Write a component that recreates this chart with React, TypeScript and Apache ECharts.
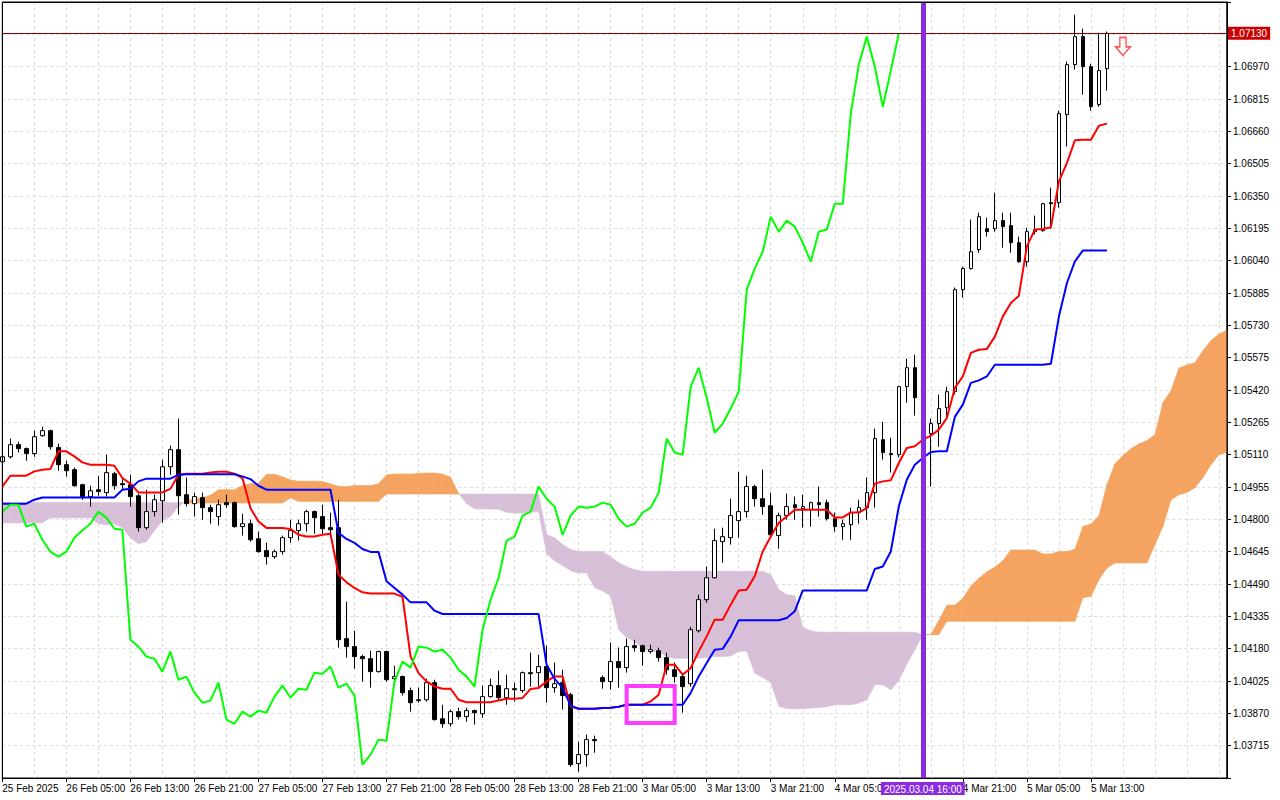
import React, { useEffect, useRef } from "react";
import * as echarts from "echarts";

// ---- price data (EURUSD H1), bar 0 = 25 Feb 21:00 ----
const opens = [
  1.05076,1.05100,1.05158,1.05139,1.05115,1.05201,1.05225,1.05144,1.05062,1.05038,
  1.04966,1.04909,1.04942,1.04928,1.05019,1.04971,1.04966,1.04913,1.04760,1.04837,
  1.04889,1.05052,1.05134,1.04918,1.04875,1.04904,1.04856,1.04813,1.04880,1.04880,
  1.04765,1.04779,1.04707,1.04650,1.04621,1.04645,1.04712,1.04746,1.04779,1.04837,
  1.04813,1.04760,1.04760,1.04228,1.04190,1.04142,1.04132,1.04070,1.04166,1.04036,
  1.04046,1.03979,1.03935,1.03935,1.04017,1.03844,1.03820,1.03878,1.03854,1.03883,
  1.03868,1.03950,1.04003,1.03945,1.03988,1.03979,1.04065,1.04065,1.04094,1.03993,
  1.04017,1.03959,1.03629,1.03672,1.03744,1.04041,1.04022,1.04118,1.04089,1.04194,
  1.04194,1.04166,1.04170,1.04137,1.04079,1.04046,1.04012,1.04266,1.04415,1.04520,
  1.04693,1.04712,1.04794,1.04837,1.04957,1.04899,1.04865,1.04722,1.04818,1.04870,
  1.04851,1.04846,1.04880,1.04880,1.04803,1.04765,1.04774,1.04832,1.04856,1.04928,
  1.05182,1.05115,1.05110,1.05436,1.05527,1.05383,1.05211,1.05259,1.05335,1.05412,
  1.05901,1.06002,1.06093,1.06193,1.06193,1.06232,1.06208,1.06126,1.06035,1.06179,
  1.06184,1.06318,1.06318,1.06740,1.06980,1.07114,1.06970,1.06788,1.06960
];
const highs = [
  1.05110,1.05187,1.05172,1.05144,1.05225,1.05244,1.05230,1.05163,1.05081,1.05048,
  1.04971,1.04961,1.05009,1.05110,1.05028,1.05000,1.05014,1.04923,1.04942,1.04918,
  1.05086,1.05153,1.05283,1.05000,1.04928,1.04928,1.04870,1.04894,1.04918,1.04885,
  1.04827,1.04798,1.04741,1.04688,1.04655,1.04722,1.04798,1.04798,1.04846,1.04842,
  1.04870,1.04832,1.04894,1.04405,1.04266,1.04151,1.04170,1.04170,1.04170,1.04098,
  1.04051,1.03993,1.03993,1.04036,1.04031,1.03911,1.03888,1.03897,1.03897,1.03888,
  1.04003,1.04036,1.04074,1.04055,1.04017,1.04070,1.04161,1.04151,1.04194,1.04113,
  1.04079,1.03969,1.03734,1.03768,1.03763,1.04051,1.04209,1.04185,1.04228,1.04223,
  1.04199,1.04199,1.04185,1.04161,1.04113,1.04055,1.04285,1.04439,1.04573,1.04755,
  1.04760,1.04899,1.05028,1.05009,1.04966,1.05038,1.04928,1.04832,1.04923,1.04909,
  1.04918,1.04885,1.04957,1.04894,1.04832,1.04798,1.04856,1.04894,1.05000,1.05235,
  1.05268,1.05191,1.05441,1.05570,1.05589,1.05398,1.05283,1.05398,1.05436,1.05911,
  1.06011,1.06237,1.06270,1.06246,1.06366,1.06270,1.06270,1.06155,1.06198,1.06256,
  1.06318,1.06390,1.06759,1.06994,1.07219,1.07152,1.06984,1.07133,1.07138
];
const lows = [
  1.05067,1.05091,1.05120,1.05081,1.05100,1.05196,1.05134,1.05033,1.05005,1.04957,
  1.04894,1.04861,1.04913,1.04909,1.04942,1.04942,1.04861,1.04741,1.04750,1.04813,
  1.04784,1.05014,1.04822,1.04861,1.04813,1.04798,1.04779,1.04770,1.04856,1.04760,
  1.04722,1.04693,1.04640,1.04583,1.04611,1.04631,1.04688,1.04698,1.04741,1.04731,
  1.04731,1.04717,1.04185,1.04137,1.04084,1.04022,1.03993,1.04065,1.04022,1.04026,
  1.03955,1.03878,1.03921,1.03926,1.03835,1.03801,1.03806,1.03840,1.03830,1.03816,
  1.03849,1.03945,1.03931,1.03911,1.03926,1.03969,1.03998,1.03998,1.03921,1.03969,
  1.03888,1.03614,1.03590,1.03614,1.03681,1.03988,1.03983,1.03993,1.04065,1.04166,
  1.04098,1.04156,1.04118,1.04055,1.04017,1.03873,1.03998,1.04257,1.04400,1.04516,
  1.04592,1.04679,1.04712,1.04808,1.04861,1.04822,1.04717,1.04659,1.04798,1.04798,
  1.04760,1.04765,1.04813,1.04794,1.04741,1.04702,1.04702,1.04779,1.04798,1.04856,
  1.05086,1.05024,1.05096,1.05359,1.05297,1.05182,1.04957,1.05148,1.05287,1.05398,
  1.05863,1.05997,1.06078,1.06155,1.06179,1.06102,1.06078,1.06030,1.06011,1.06165,
  1.06179,1.06193,1.06294,1.06587,1.06956,1.06836,1.06759,1.06778,1.06855
];
const closes = [
  1.05100,1.05158,1.05139,1.05115,1.05196,1.05225,1.05148,1.05062,1.05033,1.04961,
  1.04909,1.04937,1.04933,1.05024,1.04961,1.04966,1.04909,1.04760,1.04837,1.04894,
  1.05052,1.05134,1.04913,1.04875,1.04909,1.04856,1.04837,1.04870,1.04870,1.04765,
  1.04779,1.04702,1.04645,1.04621,1.04645,1.04712,1.04746,1.04779,1.04837,1.04808,
  1.04755,1.04750,1.04223,1.04190,1.04142,1.04132,1.04070,1.04166,1.04031,1.04046,
  1.03969,1.03921,1.03931,1.04017,1.03840,1.03820,1.03878,1.03854,1.03883,1.03873,
  1.03950,1.04003,1.03945,1.03988,1.03983,1.04065,1.04060,1.04094,1.03993,1.04012,
  1.03955,1.03624,1.03672,1.03744,1.03739,1.04022,1.04118,1.04089,1.04190,1.04185,
  1.04166,1.04175,1.04137,1.04079,1.04046,1.03998,1.04271,1.04415,1.04520,1.04698,
  1.04717,1.04818,1.04837,1.04957,1.04899,1.04861,1.04726,1.04818,1.04861,1.04856,
  1.04861,1.04880,1.04870,1.04803,1.04765,1.04779,1.04832,1.04856,1.04928,1.05187,
  1.05120,1.05110,1.05436,1.05527,1.05383,1.05215,1.05259,1.05331,1.05412,1.05901,
  1.06002,1.06083,1.06251,1.06179,1.06232,1.06203,1.06126,1.06035,1.06179,1.06189,
  1.06313,1.06313,1.06745,1.06980,1.07114,1.06970,1.06778,1.06951,1.07130
];

// ---- Ichimoku lines ----
const tenkan = [
  1.04957,1.05009,1.05009,1.05009,1.05030,1.05038,1.05041,1.05126,1.05126,1.05102,
  1.05073,1.05062,1.05062,1.05062,1.05057,1.04998,1.04971,1.04929,1.04929,1.04929,
  1.04929,1.04946,1.05014,1.05019,1.05019,1.05019,1.05024,1.05028,1.05028,1.05019,
  1.04998,1.04854,1.04790,1.04759,1.04759,1.04759,1.04754,1.04726,1.04718,1.04718,
  1.04726,1.04731,1.04535,1.04498,1.04471,1.04450,1.04444,1.04444,1.04444,1.04444,
  1.04428,1.04143,1.04063,1.04023,1.03999,1.03988,1.03988,1.03935,1.03923,1.03923,
  1.03923,1.03923,1.03932,1.03940,1.03940,1.03944,1.03987,1.03992,1.04023,1.04047,
  1.04047,1.03903,1.03892,1.03892,1.03892,1.03896,1.03897,1.03902,1.03911,1.03911,
  1.03911,1.03927,1.03959,1.04103,1.04103,1.04055,1.04087,1.04167,1.04239,1.04319,
  1.04319,1.04391,1.04459,1.04463,1.04527,1.04646,1.04718,1.04783,1.04814,1.04846,
  1.04846,1.04846,1.04846,1.04846,1.04809,1.04809,1.04833,1.04833,1.04854,1.04971,
  1.04982,1.04987,1.05070,1.05142,1.05150,1.05182,1.05201,1.05230,1.05286,1.05430,
  1.05485,1.05598,1.05613,1.05617,1.05676,1.05773,1.05837,1.05872,1.06109,1.06189,
  1.06192,1.06200,1.06420,1.06508,1.06617,1.06620,1.06620,1.06687,1.06697
];
const kijun = [
  1.04875,1.04875,1.04875,1.04875,1.04894,1.04905,1.04905,1.04905,1.04905,1.04905,
  1.04905,1.04905,1.04905,1.04905,1.04905,1.04942,1.04947,1.04982,1.04995,1.04995,
  1.04995,1.04995,1.05013,1.05016,1.05016,1.05016,1.05016,1.05016,1.05016,1.05016,
  1.05006,1.04993,1.04961,1.04942,1.04942,1.04942,1.04942,1.04942,1.04942,1.04942,
  1.04942,1.04942,1.04735,1.04706,1.04687,1.04658,1.04644,1.04644,1.04503,1.04471,
  1.04439,1.04402,1.04402,1.04402,1.04362,1.04346,1.04346,1.04346,1.04346,1.04346,
  1.04346,1.04346,1.04346,1.04346,1.04346,1.04346,1.04346,1.04346,1.04103,1.04035,
  1.03992,1.03907,1.03892,1.03892,1.03892,1.03895,1.03897,1.03902,1.03911,1.03911,
  1.03911,1.03911,1.03911,1.03911,1.03911,1.03911,1.03968,1.04047,1.04111,1.04175,
  1.04179,1.04239,1.04316,1.04316,1.04316,1.04316,1.04316,1.04316,1.04327,1.04359,
  1.04459,1.04459,1.04459,1.04459,1.04459,1.04459,1.04459,1.04459,1.04459,1.04562,
  1.04574,1.04646,1.04862,1.04990,1.05062,1.05094,1.05123,1.05126,1.05126,1.05291,
  1.05350,1.05454,1.05466,1.05485,1.05541,1.05541,1.05541,1.05541,1.05541,1.05541,
  1.05541,1.05546,1.05772,1.05933,1.06037,1.06089,1.06089,1.06089,1.06089
];
const spanA = [
  1.04784,1.04783,1.04783,1.04783,1.04783,1.04783,1.04807,1.04807,1.04807,1.04807,
  1.04807,1.04807,1.04779,1.04774,1.04779,1.04760,1.04712,1.04683,1.04693,1.04746,
  1.04794,1.04814,1.04861,1.04889,1.04899,1.04904,1.04916,1.04942,1.04942,1.04942,
  1.04962,1.04971,1.04973,1.05016,1.05016,1.05004,1.04989,1.04983,1.04983,1.04983,
  1.04981,1.04970,1.04959,1.04956,1.04962,1.04962,1.04962,1.04970,1.05013,1.05017,
  1.05017,1.05017,1.05020,1.05022,1.05022,1.05017,1.05002,1.04924,1.04876,1.04850,
  1.04850,1.04850,1.04848,1.04834,1.04830,1.04830,1.04834,1.04837,1.04634,1.04602,
  1.04579,1.04554,1.04543,1.04543,1.04473,1.04457,1.04433,1.04272,1.04233,1.04213,
  1.04180,1.04167,1.04167,1.04141,1.04134,1.04134,1.04134,1.04134,1.04139,1.04143,
  1.04143,1.04145,1.04167,1.04169,1.04063,1.04041,1.04019,1.03905,1.03892,1.03892,
  1.03892,1.03895,1.03897,1.03902,1.03911,1.03911,1.03911,1.03919,1.03935,1.04007,
  1.04007,1.03983,1.04027,1.04107,1.04175,1.04247,1.04249,1.04315,1.04388,1.04389,
  1.04421,1.04481,1.04517,1.04549,1.04571,1.04602,1.04653,1.04653,1.04653,1.04653,
  1.04634,1.04634,1.04646,1.04646,1.04657,1.04766,1.04778,1.04817,1.04966,1.05066,
  1.05106,1.05138,1.05162,1.05178,1.05206,1.05360,1.05417,1.05526,1.05540,1.05551,
  1.05609,1.05657,1.05689,1.05707
];
const spanB = [
  1.04881,1.04881,1.04881,1.04881,1.04881,1.04881,1.04881,1.04881,1.04881,1.04881,
  1.04881,1.04881,1.04881,1.04881,1.04881,1.04881,1.04881,1.04881,1.04881,1.04881,
  1.04881,1.04881,1.04881,1.04878,1.04878,1.04878,1.04878,1.04878,1.04878,1.04878,
  1.04878,1.04878,1.04878,1.04878,1.04878,1.04878,1.04902,1.04886,1.04886,1.04886,
  1.04886,1.04886,1.04886,1.04886,1.04886,1.04886,1.04886,1.04886,1.04921,1.04921,
  1.04921,1.04921,1.04921,1.04921,1.04921,1.04921,1.04921,1.04921,1.04921,1.04921,
  1.04921,1.04921,1.04921,1.04921,1.04921,1.04921,1.04921,1.04921,1.04726,1.04712,
  1.04679,1.04655,1.04646,1.04646,1.04646,1.04645,1.04621,1.04592,1.04573,1.04559,
  1.04551,1.04551,1.04551,1.04551,1.04551,1.04551,1.04551,1.04551,1.04551,1.04551,
  1.04551,1.04551,1.04551,1.04551,1.04551,1.04551,1.04535,1.04463,1.04439,1.04434,
  1.04281,1.04266,1.04259,1.04259,1.04259,1.04259,1.04259,1.04259,1.04259,1.04259,
  1.04259,1.04259,1.04259,1.04259,1.04259,1.04247,1.04247,1.04247,1.04311,1.04311,
  1.04311,1.04311,1.04311,1.04311,1.04311,1.04311,1.04311,1.04311,1.04311,1.04311,
  1.04311,1.04311,1.04311,1.04311,1.04311,1.04424,1.04431,1.04511,1.04567,1.04591,
  1.04591,1.04591,1.04591,1.04591,1.04679,1.04766,1.04894,1.04918,1.04929,1.04952,
  1.05000,1.05062,1.05110,1.05121
];
const CHIKOU_SHIFT = 26;
const TOTAL_BARS = 154;

// ---- axes ----
const xTickLabels = [
  "25 Feb 2025","26 Feb 05:00","26 Feb 13:00","26 Feb 21:00","27 Feb 05:00","27 Feb 13:00",
  "27 Feb 21:00","28 Feb 05:00","28 Feb 13:00","28 Feb 21:00","3 Mar 05:00","3 Mar 13:00",
  "3 Mar 21:00","4 Mar 05:00","","4 Mar 21:00","5 Mar 05:00","5 Mar 13:00"
];
const BARS_PER_LABEL = 8;
const BARS_PER_GRID = 4;
const yMin = 1.0356;
const yMax = 1.0728;
const yStep = 0.00155;

// ---- annotations ----
const lastPrice = 1.0713;
const markerBar = 115;
const markerText = "2025.03.04 16:00";
const signalBars = [140];
const signalPrices = [1.07067];
const boxBars = [78, 84];
const boxPrices = [1.04001, 1.03824];

const FONT = "Liberation Sans, Arial, sans-serif";
const ORANGE = "#F4A460";
const THISTLE = "#D8BFD8";

export default function App() {
  const ref = useRef<HTMLDivElement>(null);

  useEffect(() => {
    const chart = echarts.init(ref.current as HTMLDivElement, null, { renderer: "svg" });

    const categories = Array.from({ length: TOTAL_BARS }, (_, i) => String(i));
    const candleData = opens.map((o, i) => [o, closes[i], lows[i], highs[i]]);
    const chikou = closes.slice(CHIKOU_SHIFT);
    const cloudData = spanA.slice(0, -1).map((a, i) => [i, a, spanB[i], spanA[i + 1], spanB[i + 1]]);

    const hasLabel = (i: number) =>
      i % BARS_PER_LABEL === 0 &&
      i / BARS_PER_LABEL < xTickLabels.length &&
      xTickLabels[i / BARS_PER_LABEL] !== "";

    const cloudRender = (params: any, api: any) => {
      const i = api.value(0);
      const a0 = api.value(1), b0 = api.value(2), a1 = api.value(3), b1 = api.value(4);
      const pA0 = api.coord([i, a0]);
      const pB0 = api.coord([i, b0]);
      const pA1 = api.coord([i + 1, a1]);
      const pB1 = api.coord([i + 1, b1]);
      const d0 = a0 - b0, d1 = a1 - b1;
      const poly = (pts: number[][], c: string) => ({
        type: "polygon",
        shape: { points: pts },
        style: { fill: c, stroke: c, lineWidth: 0.6 },
      });
      const children: any[] = [];
      if (d0 * d1 >= 0) {
        const c = d0 + d1 >= 0 ? ORANGE : THISTLE;
        children.push(poly([pA0, pA1, pB1, pB0], c));
      } else {
        const t = d0 / (d0 - d1);
        const pc = [pA0[0] + (pA1[0] - pA0[0]) * t, pA0[1] + (pA1[1] - pA0[1]) * t];
        children.push(poly([pA0, pc, pB0], d0 >= 0 ? ORANGE : THISTLE));
        children.push(poly([pc, pA1, pB1], d1 >= 0 ? ORANGE : THISTLE));
      }
      return { type: "group", children };
    };

    const option: any = {
      animation: false,
      backgroundColor: "#ffffff",
      textStyle: { fontFamily: FONT },
      grid: {
        left: 2.3,
        right: 53,
        top: 2,
        bottom: 22,
        show: true,
        borderColor: "#000",
        borderWidth: 1,
        backgroundColor: "#fff",
        containLabel: false,
        outerBoundsMode: "none",
      },
      graphic: [
        {
          type: "rect",
          silent: true,
          z: 100,
          shape: { x: 2.5, y: 2.5, width: 1224.5, height: 776 },
          style: { fill: "none", stroke: "#000", lineWidth: 1 },
        },
      ],
      xAxis: {
        type: "category",
        boundaryGap: false,
        data: categories,
        axisLine: { show: true, lineStyle: { color: "#000", width: 1 } },
        axisTick: { show: true, length: 4, interval: (i: number) => hasLabel(i), lineStyle: { color: "#000" } },
        axisLabel: {
          show: true,
          interval: (i: number) => hasLabel(i),
          formatter: (_v: string, i: number) => xTickLabels[i / BARS_PER_LABEL] || "",
          align: "left",
          margin: 5,
          color: "#000",
          fontSize: 10,
          fontFamily: FONT,
        },
        splitLine: {
          show: true,
          interval: (i: number) => i % BARS_PER_GRID === 0,
          lineStyle: { color: "#dcdcdc", type: [3, 3], width: 1 },
        },
      },
      yAxis: {
        type: "value",
        position: "right",
        min: yMin,
        max: yMax,
        interval: yStep,
        axisLine: { show: true, lineStyle: { color: "#000" } },
        axisTick: { show: true, length: 4, lineStyle: { color: "#000" } },
        axisLabel: {
          margin: 6,
          color: "#000",
          fontSize: 10,
          fontFamily: FONT,
          formatter: (v: number) => (v < yMin + 0.0001 || v > lastPrice - 0.0001 ? "" : v.toFixed(5)),
        },
        splitLine: { show: true, lineStyle: { color: "#dcdcdc", type: [3, 3], width: 1 } },
      },
      series: [
        {
          type: "custom",
          name: "cloud",
          data: cloudData,
          renderItem: cloudRender,
          encode: { x: 0, y: [1, 2, 3, 4] },
          clip: true,
          silent: true,
          z: 1,
        },
        {
          type: "candlestick",
          name: "price",
          data: candleData,
          barWidth: 4,
          silent: true,
          z: 2,
          itemStyle: {
            color: "#ffffff",
            color0: "#000000",
            borderColor: "#000000",
            borderColor0: "#000000",
            borderColorDoji: "#000000",
            borderWidth: 1,
          },
        },
        {
          type: "line",
          name: "tenkan",
          data: tenkan,
          symbol: "none",
          showSymbol: false,
          silent: true,
          z: 3,
          lineStyle: { color: "#ff0000", width: 2 },
          itemStyle: { color: "#ff0000" },
        },
        {
          type: "line",
          name: "kijun",
          data: kijun,
          symbol: "none",
          showSymbol: false,
          silent: true,
          z: 4,
          lineStyle: { color: "#0000ff", width: 2 },
          itemStyle: { color: "#0000ff" },
        },
        {
          type: "line",
          name: "chikou",
          data: chikou,
          symbol: "none",
          showSymbol: false,
          silent: true,
          z: 5,
          lineStyle: { color: "#00ff00", width: 2 },
          itemStyle: { color: "#00ff00" },
        },
        {
          type: "scatter",
          name: "signal",
          data: signalBars.map((b, i) => [b, signalPrices[i]]),
          symbol: "path://M5,0 L12,0 L12,10 L17,10 L8.5,19 L0,10 L5,10 Z",
          symbolSize: [15, 18],
          silent: true,
          clip: false,
          z: 6,
          itemStyle: { color: "#ffffff", borderColor: "#ff2a2a", borderWidth: 1.5 },
          markLine: {
            silent: true,
            symbol: ["none", "none"],
            precision: 5,
            z: 10,
            data: [
              {
                yAxis: lastPrice,
                lineStyle: { color: "#8b0000", width: 1, type: "solid" },
                label: {
                  show: true,
                  position: "end",
                  formatter: lastPrice.toFixed(5),
                  color: "#ffffff",
                  backgroundColor: "#cc0000",
                  padding: [2, 3, 1, 3],
                  distance: 1,
                  fontSize: 10,
                  fontFamily: FONT,
                },
              },
              {
                xAxis: markerBar,
                lineStyle: { color: "#8a2be2", width: 5, type: "solid" },
                label: {
                  show: true,
                  position: "start",
                  formatter: markerText,
                  color: "#ffffff",
                  backgroundColor: "#8a2be2",
                  padding: [2, 3, 1, 3],
                  distance: 4,
                  fontSize: 10,
                  fontFamily: FONT,
                },
              },
            ],
          },
          markArea: {
            silent: true,
            precision: 5,
            z: 10,
            itemStyle: { color: "rgba(0,0,0,0)", borderColor: "#ff3cff", borderWidth: 4 },
            data: [[{ xAxis: boxBars[0], yAxis: boxPrices[0] }, { xAxis: boxBars[1], yAxis: boxPrices[1] }]],
          },
        },
      ],
    };

    chart.setOption(option);
    return () => chart.dispose();
  }, []);

  return (
    <div
      ref={ref}
      style={{ position: "fixed", left: 0, top: 0, width: 1280, height: 800, background: "#fff" }}
    />
  );
}
